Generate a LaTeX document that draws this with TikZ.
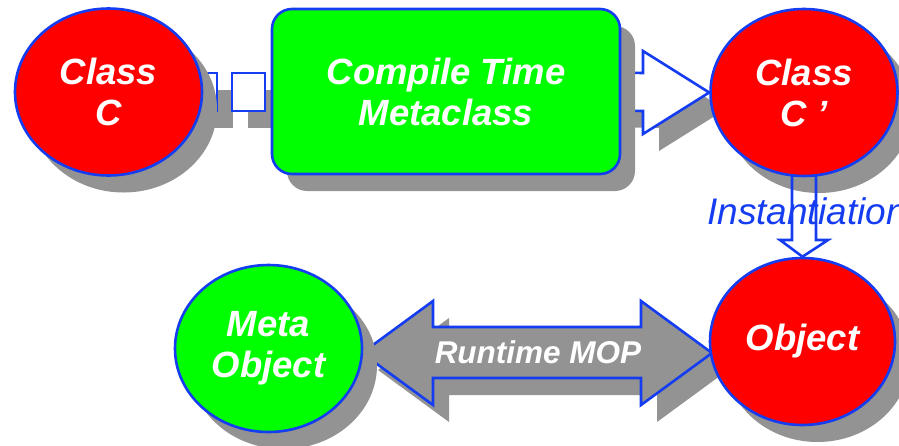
\documentclass[tikz,border=0pt]{standalone}
\usepackage{fontspec}
\setmainfont{Liberation Sans}
\usetikzlibrary{shapes.geometric,shadows}
\definecolor{mblue}{RGB}{20,60,240}
\definecolor{shadowgray}{RGB}{147,147,147}
\definecolor{fillred}{RGB}{255,0,0}
\definecolor{fillgreen}{RGB}{0,255,0}
\pgfdeclarelayer{back}
\pgfsetlayers{back,main}
\begin{document}
\begin{tikzpicture}[x=1pt,y=-1pt,
  outl/.style={draw=mblue,line width=2.6pt},
  shd/.style={drop shadow={shadow xshift=#1pt,shadow yshift=-17pt,fill=shadowgray,opacity=1}},
  shd/.default=15,
  lbl/.style={text=white,font=\bfseries\itshape\fontsize{36.5}{41}\selectfont,align=center},
  oval/.style={ellipse,outl,shd,lbl,inner sep=0pt,minimum width=187pt,minimum height=167pt},
  blockarrow/.style={outl,line join=miter},
]
\useasboundingbox (0,0) rectangle (899,445);
\clip (0,0) rectangle (899,445);

% main shapes
\node[oval,fill=fillred] (classC) at (108.5,92) {Class\\C};
\node[rectangle,rounded corners=20pt,outl,shd,lbl,fill=fillgreen,
      minimum width=348pt,minimum height=165pt] (ctm) at (446,91.5) {Compile Time\\Metaclass};
\node[oval,fill=fillred] (classC2) at (804,92.5) {Class\\C ’};
\node[oval,fill=fillgreen] (metaobj) at (268.5,348.5) {Meta\\Object};
\node[oval,fill=fillred,minimum width=185pt] (obj) at (802.5,341.5) {Object};

\begin{pgfonlayer}{back}
  % chain of squares between Class C and the compile time metaclass
  \node[rectangle,outl,fill=white,shd=16,minimum width=33pt,minimum height=38pt,inner sep=0pt]
    (sq1) at (200.5,92) {};
  \node[rectangle,outl,fill=white,shd=16,minimum width=33pt,minimum height=38pt,inner sep=0pt]
    (sq2) at (248.5,92) {};
  % open arrow towards Class C'
  \draw[blockarrow,fill=white,shd=16]
    (ctm.east) ++(-10,-19) -- (643,73) -- (643,51) -- (classC2.west)
    -- (643,134) -- (643,111) -- ([xshift=-10pt,yshift=-19pt]ctm.east) -- cycle;
  % runtime MOP double arrow
  \draw[blockarrow,fill=shadowgray,shd=16]
    (362,353) -- (433,301) -- (433,327) -- (641,327) -- (641,301) -- (712,353)
    -- (641,405) -- (641,378) -- (433,378) -- (433,405) -- cycle;
\end{pgfonlayer}

\node[text=white,font=\bfseries\itshape\fontsize{31.5}{35}\selectfont] (mop) at (538,352) {Runtime MOP};

% instantiation
\node[anchor=base west,text=mblue,font=\itshape\fontsize{37}{42}\selectfont,inner sep=0pt]
  (inst) at (707,224) {Instantiation};
\draw[blockarrow] (792,175.5) -- (792,240) -- (780,240) -- (obj.north)
  -- (828,240) -- (816,240) -- (816,175.5);
\end{tikzpicture}
\end{document}
